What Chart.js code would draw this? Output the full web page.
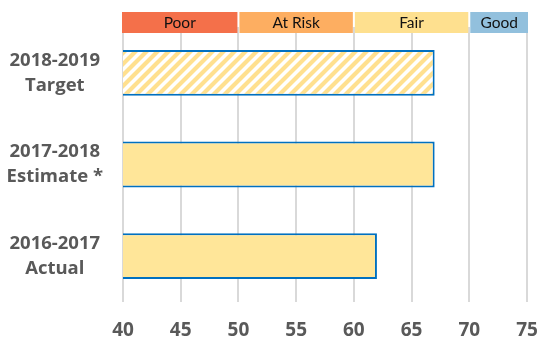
<!DOCTYPE html>
<html>
<head>
<meta charset="utf-8">
<script src="https://cdn.jsdelivr.net/npm/chart.js@4/dist/chart.umd.min.js"></script>
<style>
  html, body { margin: 0; padding: 0; background: #fff; }
  #wrap { width: 539px; height: 343px; }
</style>
</head>
<body>
<div id="wrap"><canvas id="c" width="539" height="343"></canvas></div>
<script>
// Rows of the chart, top to bottom
const categories = [["2018-2019", "Target"], ["2017-2018", "Estimate *"], ["2016-2017", "Actual"]];
const scores = [67, 67, 62];

// Rating bands along the top of the plot
const bandLabels = ["Poor", "At Risk", "Fair", "Good"];
const bandStarts = [40, 50, 60, 70];
const bandEnds = [50, 60, 70, 75];
const bandColors = ["#F4704A", "#FDAE61", "#FEE08F", "#92C0DD"];

// Axis ticks
const xTicks = [40, 45, 50, 55, 60, 65, 70, 75];

const FILL = "#FFE699";
const EDGE = "#0070C0";

// Diagonal-stripe fill used for the target row
function stripePattern() {
  const s = 11;
  const p = document.createElement("canvas");
  p.width = s; p.height = s;
  const g = p.getContext("2d");
  g.fillStyle = "#ffffff";
  g.fillRect(0, 0, s, s);
  g.strokeStyle = "#FFE08F";
  g.lineWidth = 4.2;
  g.beginPath();
  g.moveTo(-s, s); g.lineTo(s, -s);
  g.moveTo(0, s * 2); g.lineTo(s * 2, 0);
  g.moveTo(0, s); g.lineTo(s, 0);
  g.stroke();
  return document.getElementById("c").getContext("2d").createPattern(p, "repeat");
}

const bandPlugin = {
  id: "bands",
  afterDraw(chart) {
    const x = chart.scales.x;
    const ctx = chart.ctx;
    ctx.save();
    bandLabels.forEach((lab, i) => {
      const x0 = x.getPixelForValue(bandStarts[i]) + (i === 0 ? -1 : 1);
      const x1 = x.getPixelForValue(bandEnds[i]) - (i === bandLabels.length - 1 ? -1 : 1);
      ctx.fillStyle = bandColors[i];
      ctx.fillRect(x0, 12, x1 - x0, 21);
      ctx.fillStyle = "#111111";
      ctx.font = "15.5px Lato";
      ctx.textAlign = "center";
      ctx.textBaseline = "middle";
      ctx.fillText(lab, (x0 + x1) / 2, 22.5);
    });
    ctx.restore();
  }
};

new Chart(document.getElementById("c"), {
  type: "bar",
  data: {
    labels: categories,
    datasets: [{
      data: scores,
      backgroundColor: [stripePattern(), FILL, FILL],
      borderColor: EDGE,
      borderWidth: 2,
      borderSkipped: false,
      barPercentage: 0.5,
      categoryPercentage: 1
    }]
  },
  options: {
    indexAxis: "y",
    responsive: false,
    animation: false,
    layout: { padding: { top: 27, right: 12, bottom: 0, left: 0 } },
    plugins: { legend: { display: false }, tooltip: { enabled: false } },
    scales: {
      x: {
        min: 40, max: 75,
        afterBuildTicks(axis) { axis.ticks = xTicks.map(v => ({ value: v })); },
        afterFit(axis) {
          axis.height = 41;
          axis.paddingLeft = 0; axis.paddingRight = 0;
          axis.paddingTop = 0; axis.paddingBottom = 0;
        },
        grid: { color: "#D9D9D9", lineWidth: 2, drawTicks: false },
        border: { display: false },
        ticks: {
          padding: 17,
          color: "#595959",
          font: { family: "Open Sans", size: 19, weight: "bold" }
        }
      },
      y: {
        grid: { display: false, drawTicks: false },
        border: { display: false },
        afterFit(axis) { axis.width = 123; axis.paddingTop = 0; axis.paddingBottom = 0; },
        ticks: {
          padding: 20,
          crossAlign: "center",
          color: "#595959",
          font: { family: "Open Sans", size: 18.5, weight: "bold", lineHeight: 1.35 }
        }
      }
    }
  },
  plugins: [bandPlugin]
});
</script>
</body>
</html>
